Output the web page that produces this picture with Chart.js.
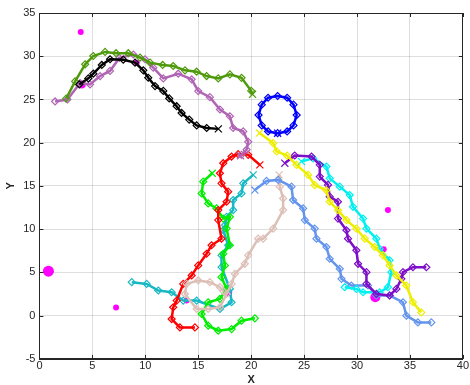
<!DOCTYPE html>
<html>
<head>
<meta charset="utf-8">
<script src="https://cdn.jsdelivr.net/npm/chart.js@4.4.1/dist/chart.umd.min.js"></script>
<style>
  body { margin: 0; background: #fff; }
  #wrap { width: 470px; height: 385px; }
</style>
</head>
<body>
<div id="wrap"><canvas id="tracks" width="470" height="385"></canvas></div>
<script>
// axis ticks
const xTicks = [0, 5, 10, 15, 20, 25, 30, 35, 40];
const yTicks = [-5, 0, 5, 10, 15, 20, 25, 30, 35];

// trajectories, first point = the "x" end
const blackX = [16.9, 15.8, 14.85, 14.15, 13.43, 12.96, 12.26, 11.7, 10.92, 10.28, 9.81, 9.03, 7.92, 6.67, 5.89, 5.09, 4.62, 3.77];
const blackY = [21.6, 21.7, 22.0, 22.67, 23.44, 24.22, 25.12, 25.99, 26.55, 27.51, 28.37, 29.26, 29.6, 29.65, 28.99, 27.98, 27.44, 26.74];

const oliveX = [20.13, 20.0, 19.09, 17.99, 16.89, 15.79, 14.85, 13.75, 12.64, 11.64, 10.45, 9.5, 8.4, 7.24, 6.2, 5.09, 4.32, 3.37, 2.52];
const oliveY = [25.6, 26.0, 27.5, 27.9, 27.44, 27.71, 28.21, 28.37, 28.87, 28.99, 29.26, 29.84, 30.35, 30.35, 30.5, 30.03, 29.07, 27.1, 25.1];

const orchidX = [19.0, 19.09, 19.57, 19.72, 19.25, 18.3, 17.99, 17.05, 16.1, 15.0, 14.38, 13.11, 11.7, 10.75, 9.97, 8.87, 7.55, 6.67, 5.73, 4.78, 3.84, 2.64, 1.48];
const orchidY = [18.5, 18.6, 19.19, 20.1, 21.31, 21.7, 23.06, 23.84, 25.27, 25.97, 27.33, 27.98, 27.44, 28.68, 29.65, 30.2, 29.8, 28.3, 27.7, 26.74, 26.9, 25.0, 24.77];

const blueX = [22.5, 21.6, 21.0, 20.7, 21.0, 21.6, 22.5, 23.4, 24.0, 24.3, 24.0, 23.4, 22.5];
const blueY = [21.1, 21.3, 22.0, 23.2, 24.4, 25.2, 25.4, 25.2, 24.4, 23.2, 22.0, 21.3, 21.1];

const yellowX = [20.79, 22.08, 22.4, 23.4, 24.28, 25.38, 26.0, 27.1, 27.42, 28.2, 29.0, 29.94, 30.73, 31.67, 32.45, 33.08, 33.72, 34.66, 35.28, 36.07];
const yellowY = [21.12, 19.95, 19.0, 18.5, 17.44, 16.28, 15.1, 14.5, 13.17, 12.2, 11.05, 10.07, 8.9, 7.94, 6.98, 5.81, 4.65, 3.49, 1.55, 0.38];

const violetX = [23.18, 24.12, 25.7, 26.48, 26.48, 27.26, 27.42, 28.2, 28.2, 29.0, 29.15, 29.94, 30.1, 30.89, 30.89, 31.83, 33.08, 33.72, 34.19, 34.34, 35.28, 36.55];
const violetY = [17.63, 18.52, 18.4, 17.44, 16.08, 15.12, 13.76, 13.17, 11.23, 9.88, 8.9, 7.56, 6.0, 5.03, 3.67, 2.51, 2.33, 3.09, 4.26, 5.03, 5.6, 5.6];

const cyanX = [24.75, 25.85, 27.11, 27.42, 28.37, 29.31, 29.62, 30.57, 30.89, 31.83, 32.14, 33.08, 33.24, 32.92, 32.14, 30.57, 29.94, 28.84];
const cyanY = [17.83, 18.2, 17.24, 15.88, 14.92, 13.95, 12.59, 11.23, 10.07, 8.9, 7.74, 6.4, 5.03, 3.29, 2.71, 2.71, 3.09, 3.29];

const cornX = [20.35, 21.45, 22.55, 23.81, 23.96, 24.91, 25.07, 26.0, 26.17, 27.11, 27.42, 28.37, 28.53, 29.47, 31.04, 31.83, 33.08, 34.34, 34.66, 35.75, 37.02];
const cornY = [14.53, 15.58, 15.7, 14.92, 13.37, 12.4, 11.05, 10.07, 8.9, 7.94, 6.58, 5.42, 4.26, 3.49, 3.49, 2.33, 2.33, 1.55, 0.0, -0.78, -0.78];

const tanX = [22.64, 22.7, 23.02, 23.02, 22.08, 21.13, 20.66, 19.72, 19.4, 18.46, 18.15, 17.68, 17.05, 15.94, 14.85, 13.75, 13.9, 15.0, 16.1, 17.05, 17.4];
const tanY = [16.28, 14.92, 13.56, 12.21, 10.07, 8.9, 8.9, 6.98, 6.0, 4.84, 3.67, 2.51, 0.97, 0.77, 0.77, 2.51, 3.67, 4.07, 3.87, 3.29, 2.8];

const redX = [20.82, 19.72, 18.77, 18.15, 17.36, 17.05, 17.2, 17.83, 17.68, 16.89, 16.89, 17.2, 16.26, 15.79, 15.0, 14.38, 13.58, 12.96, 12.64, 12.49, 13.27, 14.69];
const redY = [17.44, 18.6, 18.68, 18.4, 17.63, 16.47, 15.3, 14.34, 13.17, 12.21, 11.05, 8.9, 8.14, 7.16, 5.81, 4.65, 3.67, 1.74, 0.97, -0.39, -1.36, -1.36];

const limeX = [16.32, 15.47, 15.32, 15.94, 16.73, 17.36, 17.99, 17.68, 17.99, 17.36, 17.52, 17.2, 17.68, 17.05, 15.94, 15.32, 15.94, 16.89, 18.15, 19.09, 20.35];
const limeY = [16.47, 15.5, 14.14, 12.98, 12.4, 11.23, 11.43, 10.07, 8.14, 7.16, 5.81, 4.45, 3.09, 1.93, 1.55, 0.19, -1.16, -1.74, -1.55, -0.58, -0.31];

const tealX = [20.19, 19.25, 19.09, 18.3, 18.3, 17.68, 17.52, 17.36, 17.83, 17.2, 17.2, 17.99, 18.15, 17.05, 14.85, 13.58, 12.49, 11.23, 10.13, 8.72];
const tealY = [16.28, 15.3, 14.14, 13.37, 12.21, 11.43, 10.47, 9.88, 8.14, 6.98, 5.62, 3.09, 1.55, 0.77, 1.74, 1.74, 2.71, 2.91, 3.67, 3.87];

// magenta targets
const dotX = [0.85, 3.9, 7.24, 32.92, 32.52, 31.73, 17.83, 13.9, 4.0, 9.19];
const dotY = [5.15, 32.8, 0.93, 12.21, 7.67, 2.13, 2.71, 1.74, 26.74, 29.26];
const dotR = [5.5, 3, 3, 3, 3, 5, 4, 3, 4, 3];

const series = [
  ['#000000', blackX, blackY],
  ['#4f9a0c', oliveX, oliveY],
  ['#b064b4', orchidX, orchidY],
  ['#0000ff', blueX, blueY],
  ['#eeee00', yellowX, yellowY],
  ['#7d0fc8', violetX, violetY],
  ['#00f0f0', cyanX, cyanY],
  ['#6495ed', cornX, cornY],
  ['#dcbfb6', tanX, tanY],
  ['#ff0000', redX, redY],
  ['#00ee00', limeX, limeY],
  ['#17b8c4', tealX, tealY]
];

const datasets = series.map(([color, xs, ys]) => ({
  type: 'scatter',
  data: xs.map((x, i) => ({ x: x, y: ys[i] })),
  showLine: true,
  borderColor: color,
  borderWidth: 2.5,
  backgroundColor: 'rgba(0,0,0,0)',
  pointBorderColor: color,
  pointBorderWidth: 1.2,
  pointStyle: xs.map((_, i) => i === 0 ? 'crossRot' : 'rectRot'),
  pointRadius: xs.map((_, i) => i === 0 ? 5 : 3.5),
  tension: 0
}));

datasets.push({
  type: 'bubble',
  data: dotX.map((x, i) => ({ x: x, y: dotY[i], r: dotR[i] })),
  backgroundColor: '#ff00ff',
  borderColor: '#ff00ff',
  borderWidth: 0
});

// box + inward tick marks, matlab style
const boxPlugin = {
  id: 'box',
  afterDraw(chart) {
    const { ctx, chartArea: a, scales } = chart;
    ctx.save();
    ctx.strokeStyle = '#262626';
    ctx.lineWidth = 1;
    ctx.strokeRect(Math.round(a.left) + 0.5, Math.round(a.top) + 0.5,
      Math.round(a.right - a.left), Math.round(a.bottom - a.top));
    ctx.beginPath();
    xTicks.forEach(v => {
      const p = Math.round(scales.x.getPixelForValue(v)) + 0.5;
      ctx.moveTo(p, a.bottom); ctx.lineTo(p, a.bottom - 4);
      ctx.moveTo(p, a.top); ctx.lineTo(p, a.top + 4);
    });
    yTicks.forEach(v => {
      const p = Math.round(scales.y.getPixelForValue(v)) + 0.5;
      ctx.moveTo(a.left, p); ctx.lineTo(a.left + 4, p);
      ctx.moveTo(a.right, p); ctx.lineTo(a.right - 4, p);
    });
    ctx.stroke();
    ctx.restore();
  }
};

Chart.defaults.font.family = '"Liberation Sans", Arial, sans-serif';
Chart.defaults.color = '#262626';

new Chart(document.getElementById('tracks'), {
  type: 'scatter',
  data: { datasets: datasets },
  options: {
    responsive: false,
    animation: false,
    layout: { padding: { left: 4, right: 5, top: 13, bottom: 0 } },
    plugins: { legend: { display: false }, tooltip: { enabled: false } },
    scales: {
      x: {
        type: 'linear', min: 0, max: 40,
        afterBuildTicks: s => { s.ticks = xTicks.map(v => ({ value: v })); },
        ticks: { font: { size: 11, lineHeight: 1.1 }, padding: 1, maxRotation: 0 },
        grid: { color: 'rgba(0,0,0,0.13)', drawTicks: false },
        border: { color: '#262626' },
        title: { display: true, text: 'X', font: { size: 11, weight: 'bold', lineHeight: 1 }, padding: { top: 1, bottom: 0 } }
      },
      y: {
        type: 'linear', min: -5, max: 35,
        afterBuildTicks: s => { s.ticks = yTicks.map(v => ({ value: v })); },
        ticks: { font: { size: 11 }, padding: 4 },
        grid: { color: 'rgba(0,0,0,0.13)', drawTicks: false },
        border: { color: '#262626' },
        title: { display: true, text: 'Y', font: { size: 11, weight: 'bold' }, padding: { top: 0, bottom: 2 } }
      }
    }
  },
  plugins: [boxPlugin]
});
</script>
</body>
</html>
